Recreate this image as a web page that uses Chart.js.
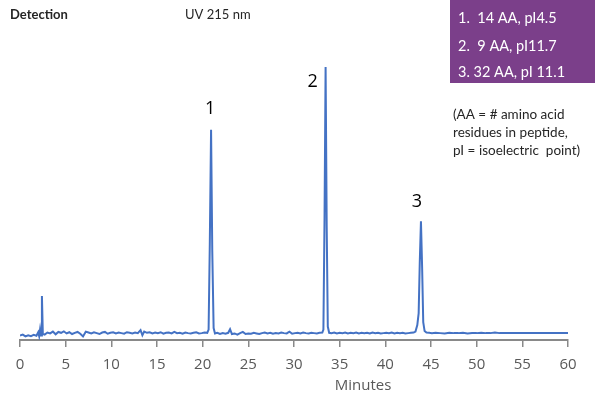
<!DOCTYPE html>
<html>
<head>
<meta charset="utf-8">
<script src="https://cdn.jsdelivr.net/npm/chart.js@4.4.1/dist/chart.umd.min.js"></script>
<style>
    html, body { margin: 0; padding: 0; background: #ffffff; }
    #wrap { width: 595px; height: 396px; position: relative; }
</style>
</head>
<body>
<div id="wrap"><canvas id="chrom" width="595" height="396"></canvas></div>
<script>
// Chromatogram, UV 215 nm
var timeMin = [
    0, 0.3, 0.6, 0.9, 1.2, 1.5, 1.8, 2.0, 2.1, 2.2, 2.3, 2.4, 2.5, 2.7,
    3.0, 3.3, 3.6, 3.9, 4.2, 4.5, 4.8, 5.1, 5.4, 5.7, 6.0, 6.3, 6.6, 6.9,
    7.2, 7.5, 7.8, 8.1, 8.4, 8.7, 9.0, 9.3, 9.6, 9.9, 10.2, 10.5, 10.8,
    11.1, 11.4, 11.7, 12.0, 12.3, 12.6, 12.9, 13.2, 13.4, 13.6, 13.9,
    14.2, 14.5, 14.8, 15.1, 15.4, 15.7, 16.0, 16.3, 16.6, 16.9, 17.2,
    17.5, 17.8, 18.1, 18.4, 18.7, 19.0, 19.3, 19.6, 19.9, 20.2, 20.5,
    20.65, 20.78, 20.92, 21.05, 21.2, 21.35, 21.6, 21.9,
    22.2, 22.5, 22.8, 23.0, 23.2, 23.5, 23.8, 24.1, 24.4, 24.7, 25.0,
    25.3, 25.6, 25.9, 26.2, 26.5, 26.8, 27.1, 27.4, 27.7, 28.0, 28.3,
    28.6, 28.9, 29.2, 29.5, 29.8, 30.1, 30.4, 30.7, 31.0, 31.3, 31.6,
    31.9, 32.2, 32.5, 32.8, 33.1, 33.22, 33.34, 33.46, 33.58, 33.7,
    33.85, 34.1, 34.4, 34.7, 35.0, 35.3, 35.6, 35.9, 36.2, 36.5,
    36.8, 37.1, 37.4, 37.7, 38.0, 38.3, 38.6, 38.9, 39.2, 39.5, 39.8,
    40.1, 40.4, 40.7, 41.0, 41.3, 41.6, 41.9, 42.2, 42.5, 42.8, 43.1,
    43.3, 43.5, 43.65, 43.77, 43.9, 44.03, 44.15, 44.3, 44.5,
    44.8, 45.1, 45.5, 46.0, 46.5, 47.0, 47.5, 48.0, 48.5, 49.0, 49.5,
    50.0, 50.5, 51.0, 51.5, 52.0, 52.5, 53.0, 54.0, 55.0, 56.0, 57.0,
    58.0, 59.0, 60.0
];
var signal = [
    1.5, 1.8, 1.2, 1.6, 1.3, 1.7, 1.4, 2.6, 1.3, 3.6, 1.5, 14.7, 2.0, 1.8,
    2.5, 2.2, 2.8, 1.9, 2.7, 2.4, 2.9, 2.2, 2.6, 2.0, 2.4, 2.7, 2.1, 1.2,
    2.8, 2.5, 2.2, 2.6, 2.3, 2.0, 2.5, 2.7, 2.1, 2.4, 2.6, 2.2, 2.5,
    2.3, 2.1, 2.6, 2.4, 2.2, 2.5, 2.3, 3.3, 1.6, 2.8, 2.4,
    2.6, 2.2, 2.5, 2.3, 2.6, 2.1, 2.4, 2.5, 2.2, 2.7, 2.3,
    2.4, 2.1, 2.5, 2.3, 2.2, 2.4, 2.6, 2.2, 2.3, 2.5, 2.4,
    3.5, 32, 70.3, 30, 4, 2.2, 2.4, 2.0,
    2.3, 2.1, 2.4, 3.6, 2.0, 2.2, 1.8, 2.3, 2.7, 2.0, 2.2,
    2.1, 2.4, 2.2, 2.0, 2.3, 2.5, 2.2, 2.4, 2.1, 2.3, 2.2,
    2.5, 2.3, 2.2, 2.8, 2.1, 2.3, 2.4, 2.2, 2.5, 2.3, 2.2,
    2.4, 2.3, 2.2, 2.4, 2.5, 3.5, 40, 91.3, 38, 4.5,
    2.4, 2.3, 2.5, 2.2, 2.4, 2.3, 2.5, 2.2, 2.4, 2.3,
    2.5, 2.2, 2.4, 2.3, 2.4, 2.2, 2.5, 2.3, 2.4, 2.2, 2.3,
    2.4, 2.3, 2.5, 2.2, 2.4, 2.3, 2.4, 2.2, 2.3, 2.4, 2.5,
    2.8, 5, 9, 26, 39.7, 24, 6, 3, 2.5,
    2.4, 2.3, 2.4, 2.3, 2.2, 2.4, 2.3, 2.3, 2.4, 2.2, 2.3,
    2.3, 2.4, 2.3, 2.3, 2.5, 2.3, 2.3, 2.3, 2.3, 2.3, 2.3,
    2.3, 2.3, 2.3
];
var xTicks = [0, 5, 10, 15, 20, 25, 30, 35, 40, 45, 50, 55, 60];

// Peak labels and the compound key
var peakNames = ['1', '2', '3'];
var peakTimes = [20.92, 33.46, 43.9];
var peakHeights = [70.3, 91.3, 39.7];
var keyLines = ['1.  14 AA, pI4.5', '2.  9 AA, pI11.7', '3. 32 AA, pI 11.1'];
var noteLines = ['(AA = # amino acid', 'residues in peptide,', 'pI = isoelectric  point)'];

var points = timeMin.map(function(t, i) {
    return { x: t, y: signal[i] };
});

var textPlugin = {
    id: 'chromText',
    afterDraw: function(chart) {
        var ctx = chart.ctx;
        var xs = chart.scales.x;
        var ys = chart.scales.y;
        ctx.save();
        ctx.textBaseline = 'middle';

        // header
        ctx.fillStyle = '#262626';
        ctx.font = 'bold 13px Lato';
        ctx.textAlign = 'left';
        ctx.fillText('Detection', 10, 15);
        ctx.font = '13px Lato';
        ctx.fillText('UV 215 nm', 185, 15);

        // peak numbers (label 2 sits beside its peak, not above)
        ctx.fillStyle = '#000000';
        ctx.font = '18px "Open Sans"';
        ctx.textAlign = 'center';
        var dx = [-1, -13, -4];
        var dy = [-21, 15, -19];
        for (var i = 0; i < peakNames.length; i++) {
            ctx.fillText(peakNames[i],
                xs.getPixelForValue(peakTimes[i]) + dx[i],
                ys.getPixelForValue(peakHeights[i]) + dy[i]);
        }

        // purple key box
        ctx.fillStyle = '#7B3F8A';
        ctx.fillRect(450, 0, 145, 83);
        ctx.fillStyle = '#ffffff';
        ctx.font = '14.5px Lato';
        ctx.textAlign = 'left';
        var keyY = [18, 46, 72];
        keyLines.forEach(function(line, k) {
            ctx.fillText(line, 458, keyY[k]);
        });

        // note under the key
        ctx.fillStyle = '#262626';
        ctx.font = '13.5px Lato';
        noteLines.forEach(function(line, k) {
            ctx.fillText(line, 453, 115 + k * 18);
        });

        // axis title, sits right of centre in the original
        ctx.fillStyle = '#595959';
        ctx.font = '15px "Open Sans"';
        ctx.textAlign = 'center';
        ctx.fillText('Minutes', 363, 386);
        ctx.restore();
    }
};

new Chart(document.getElementById('chrom').getContext('2d'), {
    type: 'line',
    data: {
        datasets: [{
            data: points,
            borderColor: '#4472C4',
            borderWidth: 2,
            pointRadius: 0,
            tension: 0,
            fill: false
        }]
    },
    options: {
        responsive: false,
        animation: false,
        events: [],
        layout: { padding: { left: 20, right: 27, top: 41, bottom: 13 } },
        scales: {
            x: {
                type: 'linear',
                min: 0,
                max: 60,
                afterBuildTicks: function(axis) {
                    axis.ticks = xTicks.map(function(v) { return { value: v }; });
                },
                grid: {
                    display: true,
                    drawOnChartArea: false,
                    drawTicks: true,
                    tickLength: 7,
                    color: '#898989',
                    lineWidth: 1.5
                },
                border: { display: true, color: '#898989', width: 2 },
                ticks: {
                    color: '#595959',
                    font: { family: 'Open Sans', size: 15 },
                    padding: 9,
                    maxRotation: 0,
                    autoSkip: false
                }
            },
            y: {
                display: false,
                min: 0,
                max: 100
            }
        },
        plugins: {
            legend: { display: false },
            tooltip: { enabled: false }
        }
    },
    plugins: [textPlugin]
});
</script>
</body>
</html>
